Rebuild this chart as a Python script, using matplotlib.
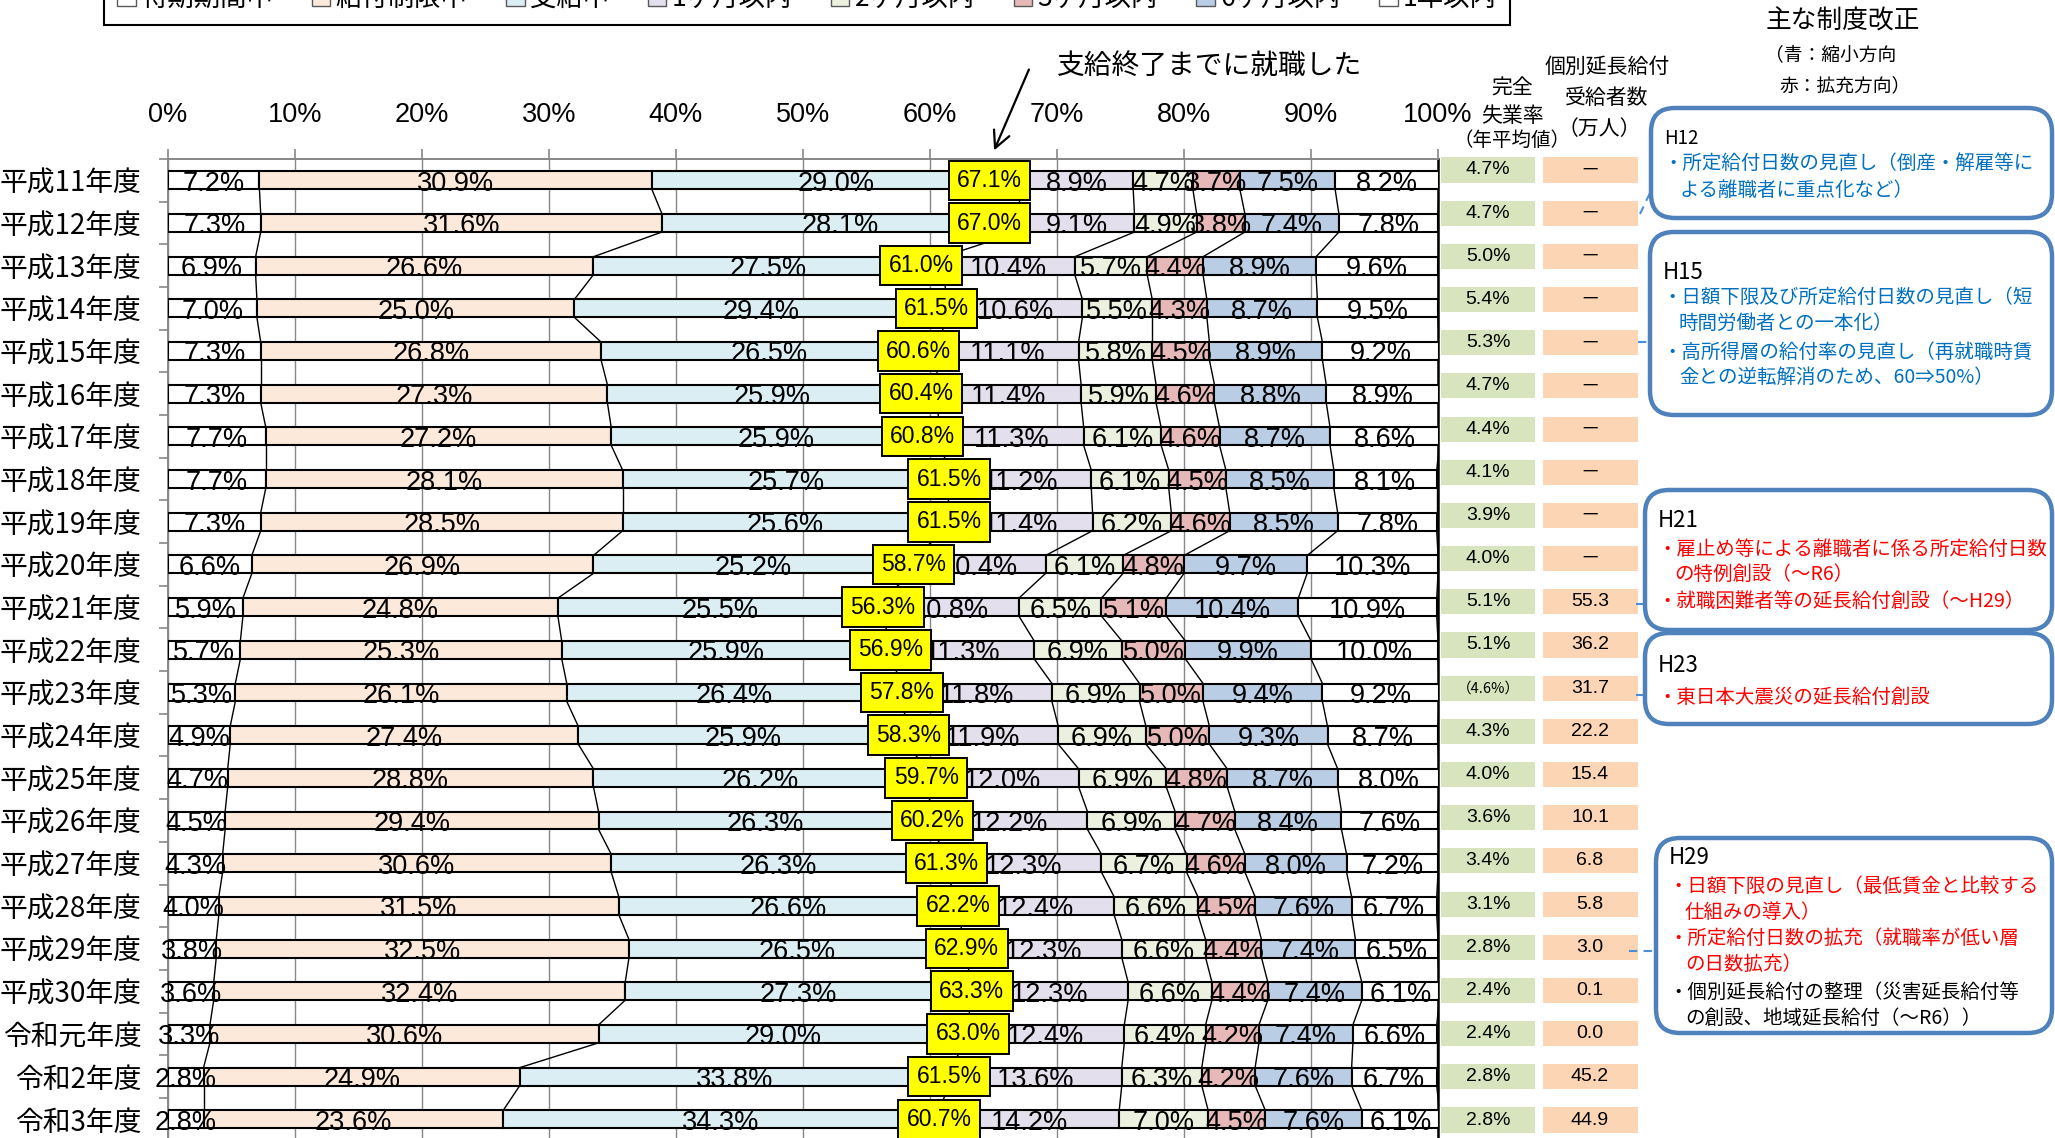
import matplotlib
matplotlib.use('Agg')
import matplotlib.pyplot as plt
from matplotlib.patches import Patch, FancyBboxPatch, Rectangle
import numpy as np

plt.rcParams['font.family'] = ['Noto Sans CJK JP', 'DejaVu Sans']
NUM_FONT = ['Liberation Sans', 'Noto Sans CJK JP', 'DejaVu Sans']

years = ['平成11年度', '平成12年度', '平成13年度', '平成14年度', '平成15年度', '平成16年度',
         '平成17年度', '平成18年度', '平成19年度', '平成20年度', '平成21年度', '平成22年度',
         '平成23年度', '平成24年度', '平成25年度', '平成26年度', '平成27年度', '平成28年度',
         '平成29年度', '平成30年度', '令和元年度', '令和2年度', '令和3年度']
stages = ['待期期間中', '給付制限中', '支給中', '1ヶ月以内', '2ヶ月以内', '3ヶ月以内', '6ヶ月以内', '1年以内']

waiting = [7.2, 7.3, 6.9, 7.0, 7.3, 7.3, 7.7, 7.7, 7.3, 6.6, 5.9, 5.7, 5.3, 4.9, 4.7, 4.5, 4.3, 4.0, 3.8, 3.6, 3.3, 2.8, 2.8]
restricted = [30.9, 31.6, 26.6, 25.0, 26.8, 27.3, 27.2, 28.1, 28.5, 26.9, 24.8, 25.3, 26.1, 27.4, 28.8, 29.4, 30.6, 31.5, 32.5, 32.4, 30.6, 24.9, 23.6]
paying = [29.0, 28.1, 27.5, 29.4, 26.5, 25.9, 25.9, 25.7, 25.6, 25.2, 25.5, 25.9, 26.4, 25.9, 26.2, 26.3, 26.3, 26.6, 26.5, 27.3, 29.0, 33.8, 34.3]
within_1m = [8.9, 9.1, 10.4, 10.6, 11.1, 11.4, 11.3, 11.2, 11.4, 10.4, 10.8, 11.3, 11.8, 11.9, 12.0, 12.2, 12.3, 12.4, 12.3, 12.3, 12.4, 13.6, 14.2]
within_2m = [4.7, 4.9, 5.7, 5.5, 5.8, 5.9, 6.1, 6.1, 6.2, 6.1, 6.5, 6.9, 6.9, 6.9, 6.9, 6.9, 6.7, 6.6, 6.6, 6.6, 6.4, 6.3, 7.0]
within_3m = [3.7, 3.8, 4.4, 4.3, 4.5, 4.6, 4.6, 4.5, 4.6, 4.8, 5.1, 5.0, 5.0, 5.0, 4.8, 4.7, 4.6, 4.5, 4.4, 4.4, 4.2, 4.2, 4.5]
within_6m = [7.5, 7.4, 8.9, 8.7, 8.9, 8.8, 8.7, 8.5, 8.5, 9.7, 10.4, 9.9, 9.4, 9.3, 8.7, 8.4, 8.0, 7.6, 7.4, 7.4, 7.4, 7.6, 7.6]
within_1y = [8.2, 7.8, 9.6, 9.5, 9.2, 8.9, 8.6, 8.1, 7.8, 10.3, 10.9, 10.0, 9.2, 8.7, 8.0, 7.6, 7.2, 6.7, 6.5, 6.1, 6.6, 6.7, 6.1]

# 支給終了までに就職した割合
found_by_end = [67.1, 67.0, 61.0, 61.5, 60.6, 60.4, 60.8, 61.5, 61.5, 58.7, 56.3, 56.9, 57.8, 58.3, 59.7, 60.2, 61.3, 62.2, 62.9, 63.3, 63.0, 61.5, 60.7]

unemployment = [4.7, 4.7, 5.0, 5.4, 5.3, 4.7, 4.4, 4.1, 3.9, 4.0, 5.1, 5.1, 4.6, 4.3, 4.0, 3.6, 3.4, 3.1, 2.8, 2.4, 2.4, 2.8, 2.8]
unemployment_estimated = ['平成23年度']
extension = [None, None, None, None, None, None, None, None, None, None,
             55.3, 36.2, 31.7, 22.2, 15.4, 10.1, 6.8, 5.8, 3.0, 0.1, 0.0, 45.2, 44.9]

colors = ['white', '#FDE9D9', '#DAEEF3', '#E4DFEC', '#EBF1DE', '#E6B9B8', '#B9CDE5', 'white']
# yellow boxes are shifted a little left in the first rows so they don't cover neighbours
box_nudge = [-2.4, -2.3, -1.7, -1.0, -1.5, -1.1, -1.4] + [0] * 16

W, H = 2055, 1138
fig = plt.figure(figsize=(W / 100, H / 100), dpi=100)


def fx(px):
    return px / W


def fy(py):
    return 1 - py / H


n = len(years)
y = np.arange(n)
data = np.array([waiting, restricted, paying, within_1m, within_2m, within_3m, within_6m, within_1y])
cum = np.cumsum(data, axis=0)
bh = 0.42

ax = fig.add_axes([fx(168), fy(1140.6), fx(1438) - fx(168), (1140.6 - 159) / H])
left = np.zeros(n)
for k in range(len(stages)):
    ax.barh(y, data[k], left=left, height=bh, color=colors[k], edgecolor='black',
            linewidth=1.5, zorder=3)
    for i in range(n):
        ax.text(left[i] + data[k][i] / 2, y[i] + 0.08, f'{data[k][i]:.1f}%', ha='center',
                va='center', fontsize=19.5, family=NUM_FONT, zorder=5)
    left = left + data[k]

# series lines between neighbouring bars
for k in range(len(stages)):
    for i in range(n - 1):
        ax.plot([cum[k, i], cum[k, i + 1]], [y[i] + bh / 2, y[i + 1] - bh / 2],
                color='black', lw=1.0, zorder=2)

for i, v in enumerate(found_by_end):
    ax.text(v + box_nudge[i], y[i], f'{v:.1f}%', ha='center', va='center', fontsize=16.5,
            family=NUM_FONT, zorder=7,
            bbox=dict(boxstyle='square,pad=0.36', fc='#FFFF00', ec='black', lw=1.4))

ax.set_xlim(0, 100)
ax.set_ylim(n - 0.5, -0.5)
ax.set_xticks(range(0, 101, 10))
ax.set_xticklabels([f'{t}%' for t in range(0, 101, 10)], family=NUM_FONT, fontsize=19.5)
ax.xaxis.tick_top()
ax.tick_params(axis='x', length=7, color='#878787', width=1.2, pad=15)
ax.xaxis.grid(True, color='#878787', lw=1.0)
ax.set_axisbelow(True)
ax.set_yticks(y)
ax.set_yticklabels(years, fontsize=20)
ax.tick_params(axis='y', which='major', length=0, pad=19)
ax.set_yticks(np.arange(-0.5, n, 1), minor=True)
ax.tick_params(axis='y', which='minor', length=6.5, color='#878787', width=1.2)
for side in ['top', 'left']:
    ax.spines[side].set_color('#878787')
    ax.spines[side].set_linewidth(1.4)
ax.spines['right'].set_color('black')
ax.spines['right'].set_linewidth(1.8)
ax.spines['bottom'].set_visible(False)

# side table: unemployment rate and extended benefit recipients
tab = fig.add_axes([fx(1438), fy(1141.6), fx(W) - fx(1438), (1141.6 - 148.4) / H])
tab.set_xlim(1438, W)
tab.set_ylim(n - 0.5, -0.5)
tab.axis('off')
for i in range(n):
    tab.add_patch(Rectangle((1441, y[i] - 0.29), 94, 0.58, fc='#D7E4BD', ec='none'))
    if years[i] in unemployment_estimated:
        tab.text(1488, y[i], f'（{unemployment[i]:.1f}%）', ha='center', va='center',
                 fontsize=10.5)
    else:
        tab.text(1488, y[i], f'{unemployment[i]:.1f}%', ha='center', va='center',
                 fontsize=14, family=NUM_FONT)
    tab.add_patch(Rectangle((1543, y[i] - 0.29), 95, 0.58, fc='#FCD5B5', ec='none'))
    if extension[i] is None:
        tab.text(1590, y[i], '－', ha='center', va='center', fontsize=14)
    else:
        tab.text(1590, y[i], f'{extension[i]:.1f}', ha='center', va='center', fontsize=14,
                 family=NUM_FONT)

# overlay in pixel coordinates for headers, notes and callouts
ov = fig.add_axes([0, 0, 1, 1])
ov.set_xlim(0, W)
ov.set_ylim(H, 0)
ov.axis('off')

ov.text(1210, 66, '支給終了までに就職した', ha='center', va='center', fontsize=20)
ov.annotate('', xy=(993, 153), xytext=(1030, 67),
            arrowprops=dict(arrowstyle='->', color='black', lw=1.6, mutation_scale=30))

ov.text(1512, 89, '完全', ha='center', va='center', fontsize=15)
ov.text(1512, 116, '失業率', ha='center', va='center', fontsize=15)
ov.text(1512, 140, '（年平均値）', ha='center', va='center', fontsize=14)
ov.text(1607, 67, '個別延長給付', ha='center', va='center', fontsize=15)
ov.text(1607, 98, '受給者数', ha='center', va='center', fontsize=15)
ov.text(1599, 129, '（万人）', ha='center', va='center', fontsize=15)

ov.text(1843, 22, '主な制度改正', ha='center', va='center', fontsize=18.5)
ov.text(1765, 55, '（青：縮小方向', ha='left', va='center', fontsize=13.5)
ov.text(1779, 86, '赤：拡充方向）', ha='left', va='center', fontsize=13.5)

BLUE, RED, FRAME = '#0070C0', '#FF0000', '#4F81BD'
notes = [
    dict(box=(1651, 108, 2052, 218), head=('H12', 138, 13.5), link=((1640, 214), (1658, 176)),
         lines=[('・所定給付日数の見直し（倒産・解雇等に', 163, BLUE),
                ('よる離職者に重点化など）', 190, BLUE)]),
    dict(box=(1650, 232, 2052, 415), head=('H15', 272, 16), link=((1638, 342), (1660, 342)),
         lines=[('・日額下限及び所定給付日数の見直し（短', 297, BLUE),
                ('時間労働者との一本化）', 323, BLUE),
                ('・高所得層の給付率の見直し（再就職時賃', 352, BLUE),
                ('金との逆転解消のため、60⇒50%）', 377, BLUE)]),
    dict(box=(1645, 490, 2052, 630), head=('H21', 520, 16), link=((1636, 604), (1657, 604)),
         lines=[('・雇止め等による離職者に係る所定給付日数', 549, RED),
                ('の特例創設（～R6）', 574, RED),
                ('・就職困難者等の延長給付創設（～H29）', 601, RED)]),
    dict(box=(1645, 633, 2052, 724), head=('H23', 665, 16), link=((1636, 695), (1659, 695)),
         lines=[('・東日本大震災の延長給付創設', 697, RED)]),
    dict(box=(1656, 838, 2052, 1033), head=('H29', 857, 16), link=((1629, 951), (1659, 951)),
         lines=[('・日額下限の見直し（最低賃金と比較する', 886, RED),
                ('仕組みの導入）', 912, RED),
                ('・所定給付日数の拡充（就職率が低い層', 938, RED),
                ('の日数拡充）', 964, RED),
                ('・個別延長給付の整理（災害延長給付等', 992, 'black'),
                ('の創設、地域延長給付（～R6））', 1018, 'black')]),
]
for note in notes:
    x0, y0, x1, y1 = note['box']
    ov.add_patch(FancyBboxPatch((x0, y0), x1 - x0, y1 - y0,
                                boxstyle='round,pad=0,rounding_size=24',
                                fc='white', ec=FRAME, lw=3.2, zorder=2))
    label, hy, hs = note['head']
    ov.text(x0 + 13, hy, label, ha='left', va='center', fontsize=hs, zorder=3)
    for text, ty, col in note['lines']:
        indent = 0 if text.startswith('・') else 17
        ov.text(x0 + 12 + indent, ty, text, ha='left', va='center', fontsize=14,
                color=col, zorder=3)
    (ax0, ay0), (ax1, ay1) = note['link']
    ov.plot([ax0, ax1], [ay0, ay1], color='#4A90D9', lw=1.5, ls=(0, (4, 3)), zorder=1)

# legend strip along the top edge (mostly above the page)
leg = fig.legend(handles=[Patch(fc=c, ec='#595959', lw=1.0) for c in colors], labels=stages,
                 ncol=8, loc='lower left', mode='expand',
                 bbox_to_anchor=(fx(104), fy(25), fx(1510) - fx(104), 0.1),
                 fontsize=19, frameon=True, fancybox=False, edgecolor='black', framealpha=1,
                 handlelength=0.7, handleheight=0.7, handletextpad=0.2, borderpad=0.5,
                 borderaxespad=0, columnspacing=0.6)
leg.get_frame().set_linewidth(1.5)

fig.savefig('out.png', dpi=100)
plt.close(fig)
